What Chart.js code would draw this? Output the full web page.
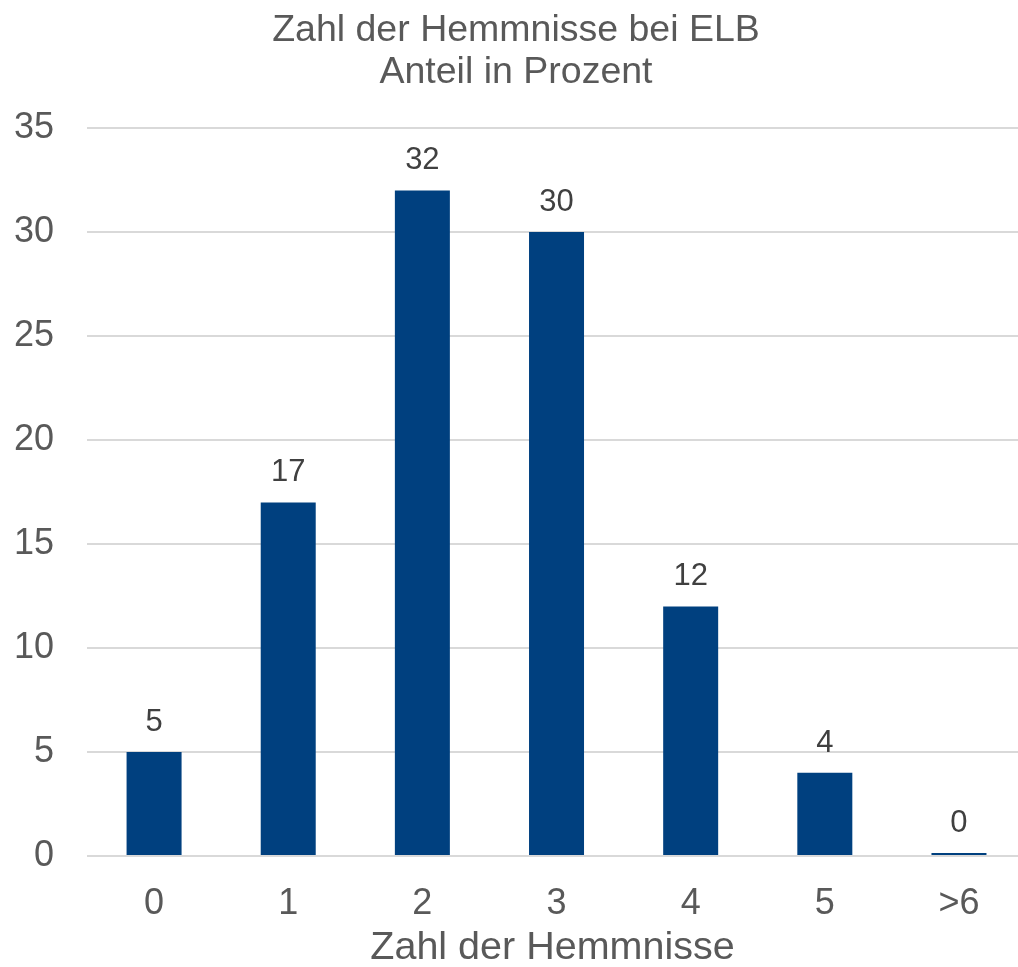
<!DOCTYPE html>
<html>
<head>
<meta charset="utf-8">
<script src="https://cdn.jsdelivr.net/npm/chart.js@4/dist/chart.umd.min.js"></script>
<style>
  html, body { margin: 0; padding: 0; background: #fff; }
  #wrap { width: 1018px; height: 967px; }
</style>
</head>
<body>
<div id="wrap"><canvas id="GraficoBarras" width="1018" height="967"></canvas></div>
<script>
const categorias = ['0', '1', '2', '3', '4', '5', '>6'];
const anteil = [5, 17, 32, 30, 12, 4, 0.15];
const titelZeilen = ['Zahl der Hemmnisse bei ELB', 'Anteil in Prozent'];
const achsenTitel = 'Zahl der Hemmnisse';

const TEXT_COLOR = '#595959';
const BAR_COLOR = '#00407f';
const FONT = '"Liberation Sans", Arial, sans-serif';

// Punkte für die lineare x-Achse (Index -> Kategorie)
const punkte = anteil.map((v, i) => ({ x: i, y: v }));

// Werte über den Balken schreiben
const wertePlugin = {
  id: 'werte',
  afterDatasetsDraw(chart) {
    const ctx = chart.ctx;
    const meta = chart.getDatasetMeta(0);
    ctx.save();
    ctx.font = '31px ' + FONT;
    ctx.fillStyle = '#404040';
    ctx.textAlign = 'center';
    ctx.textBaseline = 'bottom';
    meta.data.forEach((bar, i) => {
      const wert = Math.round(anteil[i]);
      ctx.fillText(String(wert), bar.x, bar.y - 14);
    });
    ctx.restore();
  }
};

const ctx = document.getElementById('GraficoBarras').getContext('2d');
const graficoBarras = new Chart(ctx, {
  type: 'bar',
  data: {
    datasets: [{
      data: punkte,
      backgroundColor: BAR_COLOR,
      borderWidth: 0,
      categoryPercentage: 1,
      barPercentage: 0.41
    }]
  },
  options: {
    responsive: false,
    animation: false,
    layout: { padding: { left: 14, right: 0, top: 0, bottom: 0 } },
    plugins: {
      legend: { display: false },
      tooltip: { enabled: false },
      title: {
        display: true,
        text: titelZeilen,
        color: TEXT_COLOR,
        font: { family: FONT, size: 37.5, weight: 'normal', lineHeight: 1.12 },
        padding: { top: 10, bottom: 34 }
      }
    },
    scales: {
      x: {
        type: 'linear',
        offset: false,
        // im Original ist die letzte Kategorie rechts leicht abgeschnitten
        min: -0.5,
        max: 6.44,
        afterFit(scale) { scale.height = 111; },
        grid: { display: false, offset: false },
        border: { display: false },
        ticks: {
          stepSize: 1,
          includeBounds: false,
          color: TEXT_COLOR,
          padding: 18,
          font: { family: FONT, size: 36 },
          callback: (value) => categorias[value] ?? ''
        },
        title: {
          display: true,
          text: achsenTitel,
          color: TEXT_COLOR,
          padding: { top: 0, bottom: 0 },
          font: { family: FONT, size: 39.5, lineHeight: 0.95 }
        }
      },
      y: {
        afterFit(scale) { scale.width = 73; },
        min: 0,
        max: 35,
        grid: { color: '#d9d9d9', lineWidth: 2, drawTicks: false },
        border: { display: false },
        ticks: {
          stepSize: 5,
          color: TEXT_COLOR,
          padding: 33,
          font: { family: FONT, size: 36 }
        }
      }
    }
  },
  plugins: [wertePlugin]
});
</script>
</body>
</html>
